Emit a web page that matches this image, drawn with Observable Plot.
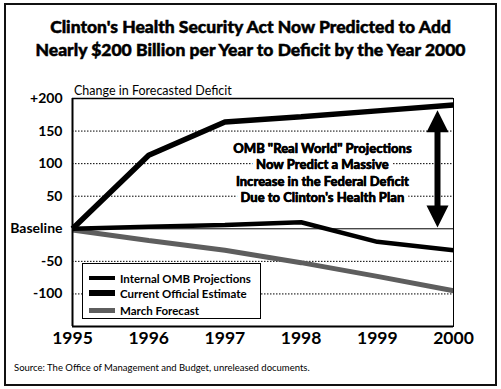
<!DOCTYPE html>
<html><head><meta charset="utf-8">
<script src="https://cdn.jsdelivr.net/npm/d3@7"></script>
<script src="https://cdn.jsdelivr.net/npm/@observablehq/plot@0.6"></script>
<style>
html,body{margin:0;padding:0;background:#fff;}
#wrap{position:relative;width:501px;height:389px;overflow:hidden;font-family:Lato,"Open Sans",sans-serif;color:#000;}
#frame{position:absolute;left:4px;top:3px;width:489px;height:379px;border:2px solid #111;}
#chart{position:absolute;left:0;top:0;}
#title{position:absolute;left:0;top:15px;width:501px;text-align:center;font-weight:900;font-size:17.5px;line-height:23px;-webkit-text-stroke:0.5px #000;}
#ylabel{position:absolute;left:74px;top:83px;font-size:12.5px;white-space:nowrap;}
#legend{position:absolute;left:82px;top:263px;width:177px;height:54px;border:1.5px solid #000;background:#fff;}
.lrow{position:absolute;left:6px;height:16px;display:flex;align-items:center;font-size:11.5px;font-weight:700;white-space:nowrap;}
.lrow span.sw{display:inline-block;width:26px;margin-right:5px;}
#source{position:absolute;left:14px;top:362px;font-size:9.5px;white-space:nowrap;}
</style></head>
<body><div id="wrap">
<div id="frame"></div>
<div id="chart"></div>
<div id="title"></div>
<div id="ylabel"></div>
<div id="legend"></div>
<div id="source"></div>
</div>
<script>
// ---- data ----
const titleLines = ["Clinton's Health Security Act Now Predicted to Add", "Nearly $200 Billion per Year to Deficit by the Year 2000"];
const yAxisTitle = "Change in Forecasted Deficit";
const sourceText = "Source: The Office of Management and Budget, unreleased documents.";
const years = [1995, 1996, 1997, 1998, 1999, 2000];
const seriesNames = ["Internal OMB Projections", "Current Official Estimate", "March Forecast"];
const internalOMB = [0, 113, 164, 172, 181, 190];
const currentOfficial = [0, 3, 6, 10, -20, -33];
const marchForecast = [-2, -18, -33, -52, -73, -95];
const seriesValues = [internalOMB, currentOfficial, marchForecast];
const seriesColors = ["#000", "#000", "#5e5e5e"];
const seriesWidths = [5.5, 4.5, 5];
const legendWidths = [4, 6, 5];
const yTickValues = [200, 150, 100, 50, 0, -50, -100];
const yTickLabels = ["+200", "150", "100", "50", "Baseline", "-50", "-100"];
const gridValues = [150, 100, 50, -50, -100];
const xDomain = [1995, 2000];
const yDomain = [-150, 200];
const annotationLines = ['OMB "Real World" Projections', 'Now Predict a Massive', 'Increase in the Federal Deficit', "Due to Clinton's Health Plan"];
const annotationPos = [1998.28, 87];
const arrowX = [1999.79];
const arrowSpan = [182, 2];

// ---- build ----
const rows = seriesNames.flatMap((s, k) => years.map((yr, i) => ({series: s, year: yr, value: seriesValues[k][i]})));
const arrowData = arrowX.map(x => ({x, top: arrowSpan[0], bottom: arrowSpan[1]}));
const headUp = {draw(ctx) { ctx.moveTo(0, 0); ctx.lineTo(11, 22); ctx.lineTo(-11, 22); ctx.closePath(); }};
const headDown = {draw(ctx) { ctx.moveTo(0, 0); ctx.lineTo(11, -22); ctx.lineTo(-11, -22); ctx.closePath(); }};

const lineMarks = [2, 1, 0].map(k => Plot.line(rows.filter(r => r.series === seriesNames[k]), {
  x: "year", y: "value", stroke: seriesColors[k], strokeWidth: seriesWidths[k],
  strokeLinecap: "butt", strokeLinejoin: "miter"
}));

const annoOpts = {
  x: () => annotationPos[0], y: () => annotationPos[1], text: d => d,
  fontSize: 13, fontWeight: 900, lineHeight: 1.27, fill: "#000"
};

const chart = Plot.plot({
  width: 501, height: 389,
  marginLeft: 72, marginRight: 48, marginTop: 98, marginBottom: 63,
  style: {fontFamily: "Lato, sans-serif", background: "transparent", color: "#000"},
  x: {domain: xDomain},
  y: {domain: yDomain},
  marks: [
    Plot.ruleY(gridValues, {stroke: "#000", strokeWidth: 1, strokeDasharray: "1.5,1.5"}),
    Plot.text([annotationLines.join("\n")], {...annoOpts, stroke: "#fff", strokeWidth: 9}),
    Plot.text([annotationLines.join("\n")], {...annoOpts, stroke: "#000", strokeWidth: 0.4}),
    Plot.ruleY([0], {stroke: "#000", strokeWidth: 1}),
    ...lineMarks,
    Plot.ruleX(arrowData, {x: "x", y1: "top", y2: "bottom", stroke: "#000", strokeWidth: 6, insetTop: 14, insetBottom: 14}),
    Plot.dot(arrowData, {x: "x", y: "top", symbol: headUp, fill: "#000", stroke: null}),
    Plot.dot(arrowData, {x: "x", y: "bottom", symbol: headDown, fill: "#000", stroke: null}),
    Plot.frame({stroke: "#000", strokeWidth: 1}),
    Plot.ruleY([yDomain[1]], {stroke: "#000", strokeWidth: 1.5}),
    Plot.ruleX([xDomain[0]], {stroke: "#000", strokeWidth: 2}),
    Plot.ruleY([yDomain[0]], {stroke: "#000", strokeWidth: 2}),
    Plot.axisY({ticks: yTickValues, tickFormat: d => yTickLabels[yTickValues.indexOf(d)], tickSize: 0, tickPadding: 10, fontSize: 14, fontWeight: 700, label: null}),
    Plot.axisX({ticks: years, tickFormat: d => String(d), tickSize: 0, tickPadding: 5, fontSize: 17.5, fontWeight: 700, label: null})
  ]
});
document.getElementById("chart").appendChild(chart);

document.getElementById("title").innerHTML = titleLines.map(t => `<div>${t}</div>`).join("");
document.getElementById("ylabel").textContent = yAxisTitle;
document.getElementById("source").textContent = sourceText;
const legend = document.getElementById("legend");
const rowTops = [6, 21, 38];
seriesNames.forEach((s, k) => {
  const r = document.createElement("div");
  r.className = "lrow";
  r.style.top = rowTops[k] + "px";
  r.innerHTML = `<span class="sw" style="height:${legendWidths[k]}px;background:${seriesColors[k]}"></span>${s}`;
  legend.appendChild(r);
});
</script>
</body></html>
